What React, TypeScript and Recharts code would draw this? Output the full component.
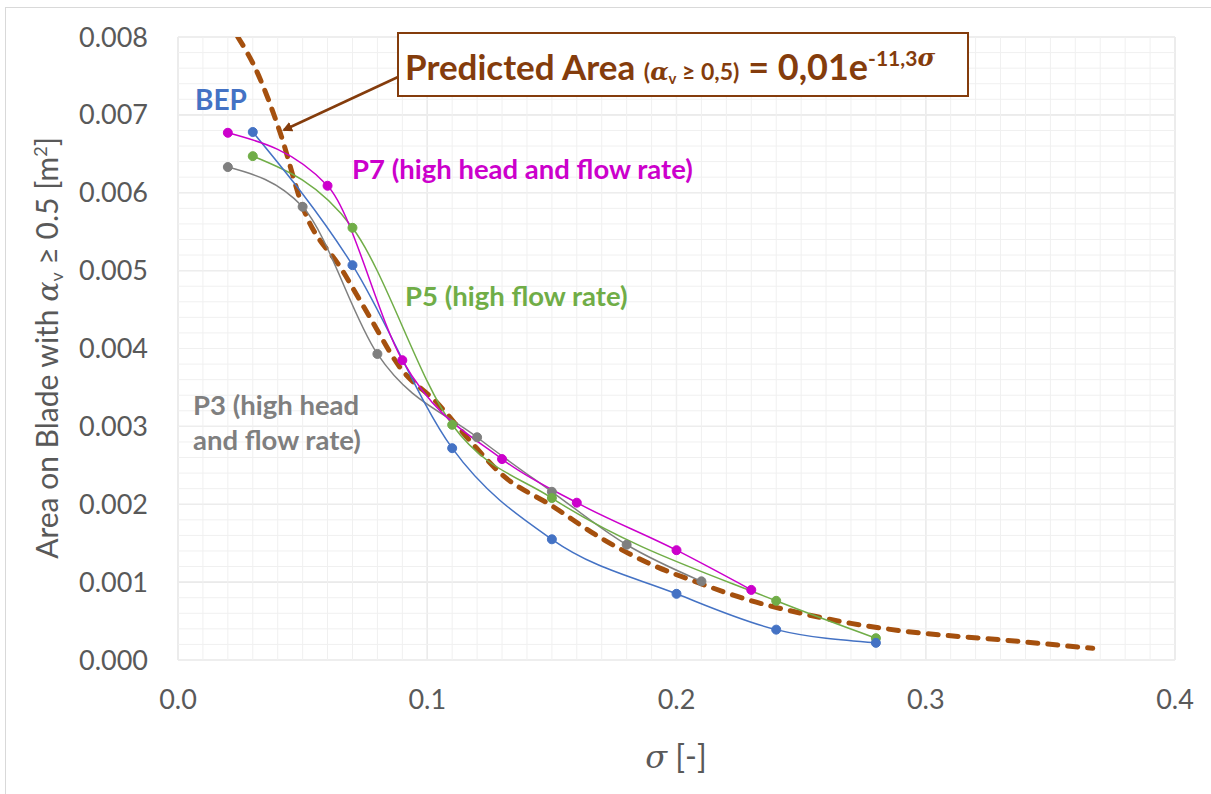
import { LineChart, Line, XAxis, YAxis, CartesianGrid, ReferenceLine } from "recharts";

// sigma [-] vs area with alpha_v >= 0.5 [m^2]
const bep = [
  { x: 0.03, y: 0.00678 },
  { x: 0.07, y: 0.00507 },
  { x: 0.11, y: 0.00272 },
  { x: 0.15, y: 0.00155 },
  { x: 0.2, y: 0.00085 },
  { x: 0.24, y: 0.00039 },
  { x: 0.28, y: 0.00022 },
];

const p7 = [
  { x: 0.02, y: 0.00677 },
  { x: 0.06, y: 0.00609 },
  { x: 0.09, y: 0.00385 },
  { x: 0.13, y: 0.00258 },
  { x: 0.16, y: 0.00202 },
  { x: 0.2, y: 0.00141 },
  { x: 0.23, y: 0.0009 },
];

const p5 = [
  { x: 0.03, y: 0.00647 },
  { x: 0.07, y: 0.00555 },
  { x: 0.11, y: 0.00302 },
  { x: 0.15, y: 0.00208 },
  { x: 0.24, y: 0.00076 },
  { x: 0.28, y: 0.00028 },
];

const p3 = [
  { x: 0.02, y: 0.00633 },
  { x: 0.05, y: 0.00582 },
  { x: 0.08, y: 0.00393 },
  { x: 0.12, y: 0.00286 },
  { x: 0.15, y: 0.00216 },
  { x: 0.18, y: 0.00148 },
  { x: 0.21, y: 0.00101 },
];

// dashed "predicted area" curve
const predicted = [
  { x: 0.024, y: 0.008 },
  { x: 0.031, y: 0.0076 },
  { x: 0.041, y: 0.00677 },
  { x: 0.05, y: 0.00582 },
  { x: 0.066, y: 0.005 },
  { x: 0.077, y: 0.0044 },
  { x: 0.089, y: 0.00376 },
  { x: 0.104, y: 0.0033 },
  { x: 0.117, y: 0.00282 },
  { x: 0.13, y: 0.00238 },
  { x: 0.15, y: 0.00198 },
  { x: 0.17, y: 0.00156 },
  { x: 0.189, y: 0.00124 },
  { x: 0.209, y: 0.00099 },
  { x: 0.229, y: 0.00077 },
  { x: 0.25, y: 0.0006 },
  { x: 0.27, y: 0.00047 },
  { x: 0.294, y: 0.00036 },
  { x: 0.33, y: 0.00026 },
  { x: 0.367, y: 0.00015 },
];

const xTicks = [0, 0.1, 0.2, 0.3, 0.4];
const yTicks = [0, 0.001, 0.002, 0.003, 0.004, 0.005, 0.006, 0.007, 0.008];
const xMinor = Array.from({ length: 41 }, (_, i) => +(i * 0.01).toFixed(2));
const yMinor = Array.from({ length: 41 }, (_, i) => +(i * 0.0002).toFixed(4));

const FONT = "Lato, 'Open Sans', sans-serif";
const GREEK = "'DejaVu Serif', serif";
const BROWN = "#843C0C";

export default function App() {
  return (
    <div
      style={{
        position: "absolute",
        left: 0,
        top: 0,
        width: 1211,
        height: 794,
        background: "#fff",
        fontFamily: FONT,
      }}
    >
      <div
        style={{
          position: "absolute",
          left: 5,
          top: 7,
          width: 1205,
          height: 790,
          borderLeft: "1px solid #d9d9d9",
          borderTop: "1px solid #d9d9d9",
          borderRight: "1px solid #d9d9d9",
        }}
      />
      <LineChart
        width={1211}
        height={794}
        margin={{ top: 37, right: 36, bottom: 0, left: 0 }}
        style={{ position: "absolute", left: 0, top: 0 }}
      >
        <XAxis
          dataKey="x"
          type="number"
          domain={[0, 0.4]}
          ticks={xTicks}
          height={134}
          tickFormatter={(v: number) => v.toFixed(1)}
          tick={{ fill: "#595959", fontSize: 27, fontFamily: FONT }}
          tickSize={0}
          tickMargin={30}
          axisLine={false}
          allowDataOverflow
        />
        <YAxis
          dataKey="y"
          type="number"
          domain={[0, 0.008]}
          ticks={yTicks}
          width={178}
          tickFormatter={(v: number) => v.toFixed(3)}
          tick={{ fill: "#595959", fontSize: 27, fontFamily: FONT }}
          tickSize={0}
          tickMargin={30}
          axisLine={false}
          allowDataOverflow
        />
        {xMinor.map((v) => (
          <ReferenceLine key={"xm" + v} x={v} stroke="#f0f0f0" strokeWidth={1} />
        ))}
        {yMinor.map((v) => (
          <ReferenceLine key={"ym" + v} y={v} stroke="#f0f0f0" strokeWidth={1} />
        ))}
        <CartesianGrid stroke="#d9d9d9" strokeWidth={1.2} />
        <Line
          data={predicted}
          dataKey="y"
          type="monotone"
          stroke="#A5500E"
          strokeWidth={5}
          strokeDasharray="10 10"
          strokeLinecap="round"
          dot={false}
          isAnimationActive={false}
        />
        <Line
          data={p3}
          dataKey="y"
          type="monotone"
          stroke="#7F7F7F"
          strokeWidth={1.5}
          dot={{ r: 4.5, fill: "#7F7F7F", stroke: "#7F7F7F", strokeWidth: 1 }}
          isAnimationActive={false}
        />
        <Line
          data={p5}
          dataKey="y"
          type="monotone"
          stroke="#70AD47"
          strokeWidth={1.5}
          dot={{ r: 4.5, fill: "#70AD47", stroke: "#70AD47", strokeWidth: 1 }}
          isAnimationActive={false}
        />
        <Line
          data={bep}
          dataKey="y"
          type="monotone"
          stroke="#4472C4"
          strokeWidth={1.5}
          dot={{ r: 4.5, fill: "#4472C4", stroke: "#4472C4", strokeWidth: 1 }}
          isAnimationActive={false}
        />
        <Line
          data={p7}
          dataKey="y"
          type="monotone"
          stroke="#CC00CC"
          strokeWidth={1.5}
          dot={{ r: 4.5, fill: "#CC00CC", stroke: "#CC00CC", strokeWidth: 1 }}
          isAnimationActive={false}
        />
      </LineChart>

      <svg
        width={1211}
        height={794}
        style={{ position: "absolute", left: 0, top: 0, pointerEvents: "none" }}
      >
        <defs>
          <marker id="arr" markerWidth="10" markerHeight="10" refX="8" refY="5" orient="auto" markerUnits="userSpaceOnUse">
            <path d="M0,0 L10,5 L0,10 z" fill={BROWN} />
          </marker>
        </defs>
        <line x1={398} y1={77} x2={284} y2={130} stroke={BROWN} strokeWidth={2.5} markerEnd="url(#arr)" />
        <rect x={398} y={33} width={570} height={63} fill="#fff" stroke={BROWN} strokeWidth={2} />
        <text x={405} y={80} fill={BROWN} fontFamily={FONT} fontWeight={700}>
          <tspan fontSize={35}>Predicted Area </tspan>
          <tspan fontSize={23}>(</tspan>
          <tspan fontSize={24} fontStyle="italic" fontFamily={GREEK}>α</tspan>
          <tspan fontSize={15} dy={4}>v</tspan>
          <tspan fontSize={23} dy={-4}> ≥ 0,5)</tspan>
          <tspan fontSize={36}> = 0,01e</tspan>
          <tspan fontSize={21} dy={-14}>-11,3</tspan>
          <tspan fontSize={24} fontStyle="italic" fontFamily={GREEK}>σ</tspan>
        </text>

        <text x={195} y={110} fill="#4472C4" fontSize={28} fontWeight={700} fontFamily={FONT}>BEP</text>
        <text x={352} y={179} fill="#CC00CC" fontSize={27.5} fontWeight={700} fontFamily={FONT}>
          P7 (high head and flow rate)
        </text>
        <text x={405} y={306} fill="#70AD47" fontSize={27.5} fontWeight={700} fontFamily={FONT}>
          P5 (high flow rate)
        </text>
        <text x={193} y={415} fill="#7F7F7F" fontSize={27.5} fontWeight={700} fontFamily={FONT}>P3 (high head</text>
        <text x={193} y={450} fill="#7F7F7F" fontSize={27.5} fontWeight={700} fontFamily={FONT}>and flow rate)</text>

        <text
          transform="translate(58,348) rotate(-90)"
          textAnchor="middle"
          fill="#595959"
          fontSize={30}
          fontFamily={FONT}
        >
          <tspan>Area on Blade with </tspan>
          <tspan fontStyle="italic" fontFamily={GREEK}>α</tspan>
          <tspan fontSize={18} dy={5}>v</tspan>
          <tspan dy={-5}> ≥ 0.5  [m</tspan>
          <tspan fontSize={18} dy={-11}>2</tspan>
          <tspan dy={11}>]</tspan>
        </text>

        <text x={676} y={768} textAnchor="middle" fill="#595959" fontSize={32} fontFamily={FONT}>
          <tspan fontStyle="italic" fontFamily={GREEK}>σ</tspan>
          <tspan> [-]</tspan>
        </text>
      </svg>
    </div>
  );
}
